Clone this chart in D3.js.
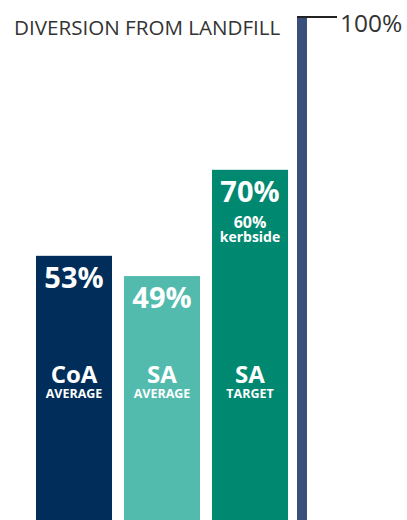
<!DOCTYPE html>
<html>
<head>
<meta charset="utf-8">
<script src="https://cdn.jsdelivr.net/npm/d3@7"></script>
<style>
  html, body {margin: 0; padding: 0; background: #fff;}
  svg {display: block;}
  text {font-family: 'Open Sans', sans-serif;}
</style>
</head>
<body>
<script>
// data
const keys = ['coa', 'sa', 'target']
const names = ['CoA', 'SA', 'SA']
const subNames = ['AVERAGE', 'AVERAGE', 'TARGET']
const values = [53, 49, 70]
const colors = ['#002d59', '#52bbae', '#018871']
const kerbside = 60
const maxValue = 100

const svgWidth = 407
const svgHeight = 520

const svg = d3.select('body').append('svg')
  .attr('width', svgWidth).attr('height', svgHeight)

const data = keys.map((k, i) => ({key: k, name: names[i], sub: subNames[i], value: values[i], color: colors[i]}))

const x = d3.scaleBand().domain(keys).range([30, 294])
  .paddingInner(12 / 88).paddingOuter(6 / 88)
const y = d3.scaleLinear().domain([0, 100]).range([524, 18])

// title
svg.append('text')
  .attr('x', 14).attr('y', 35)
  .attr('font-size', 20.6).attr('fill', '#333')
  .text('DIVERSION FROM LANDFILL')

// bars
const bars = svg.selectAll('.bar').data(data).enter().append('g')

bars.append('rect')
  .attr('x', d => x(d.key))
  .attr('width', x.bandwidth())
  .attr('y', d => y(d.value))
  .attr('height', d => y(0) - y(d.value))
  .attr('fill', d => d.color)

bars.append('text')
  .attr('x', d => x(d.key) + x.bandwidth() / 2)
  .attr('y', d => y(d.value) + 32)
  .attr('text-anchor', 'middle')
  .attr('font-size', 29).attr('font-weight', 'bold').attr('fill', '#fff')
  .text(d => d.value + '%')

bars.append('text')
  .attr('x', d => x(d.key) + x.bandwidth() / 2)
  .attr('y', 383)
  .attr('text-anchor', 'middle')
  .attr('font-size', 24).attr('font-weight', 'bold').attr('fill', '#fff')
  .text(d => d.name)

bars.append('text')
  .attr('x', d => x(d.key) + x.bandwidth() / 2)
  .attr('y', 398)
  .attr('text-anchor', 'middle')
  .attr('font-size', 12.5).attr('font-weight', 'bold').attr('fill', '#fff')
  .text(d => d.sub)

// kerbside note on target bar
const tx = x('target') + x.bandwidth() / 2
svg.append('text')
  .attr('x', tx).attr('y', 228)
  .attr('text-anchor', 'middle')
  .attr('font-size', 16).attr('font-weight', 'bold').attr('fill', '#fff')
  .text(kerbside + '%')
svg.append('text')
  .attr('x', tx).attr('y', 242)
  .attr('text-anchor', 'middle')
  .attr('font-size', 14).attr('font-weight', 'bold').attr('fill', '#fff')
  .text('kerbside')

// 100% scale bar
svg.append('rect')
  .attr('x', 297).attr('width', 10)
  .attr('y', y(maxValue) - 2)
  .attr('height', y(0) - y(maxValue) + 2)
  .attr('fill', '#3a4f7b')

svg.append('line')
  .attr('x1', 297).attr('x2', 337)
  .attr('y1', y(maxValue) - 1).attr('y2', y(maxValue) - 1)
  .attr('stroke', '#222').attr('stroke-width', 2)

svg.append('text')
  .attr('x', 340).attr('y', 32)
  .attr('font-size', 24.5).attr('fill', '#333')
  .text(maxValue + '%')
</script>
</body>
</html>
